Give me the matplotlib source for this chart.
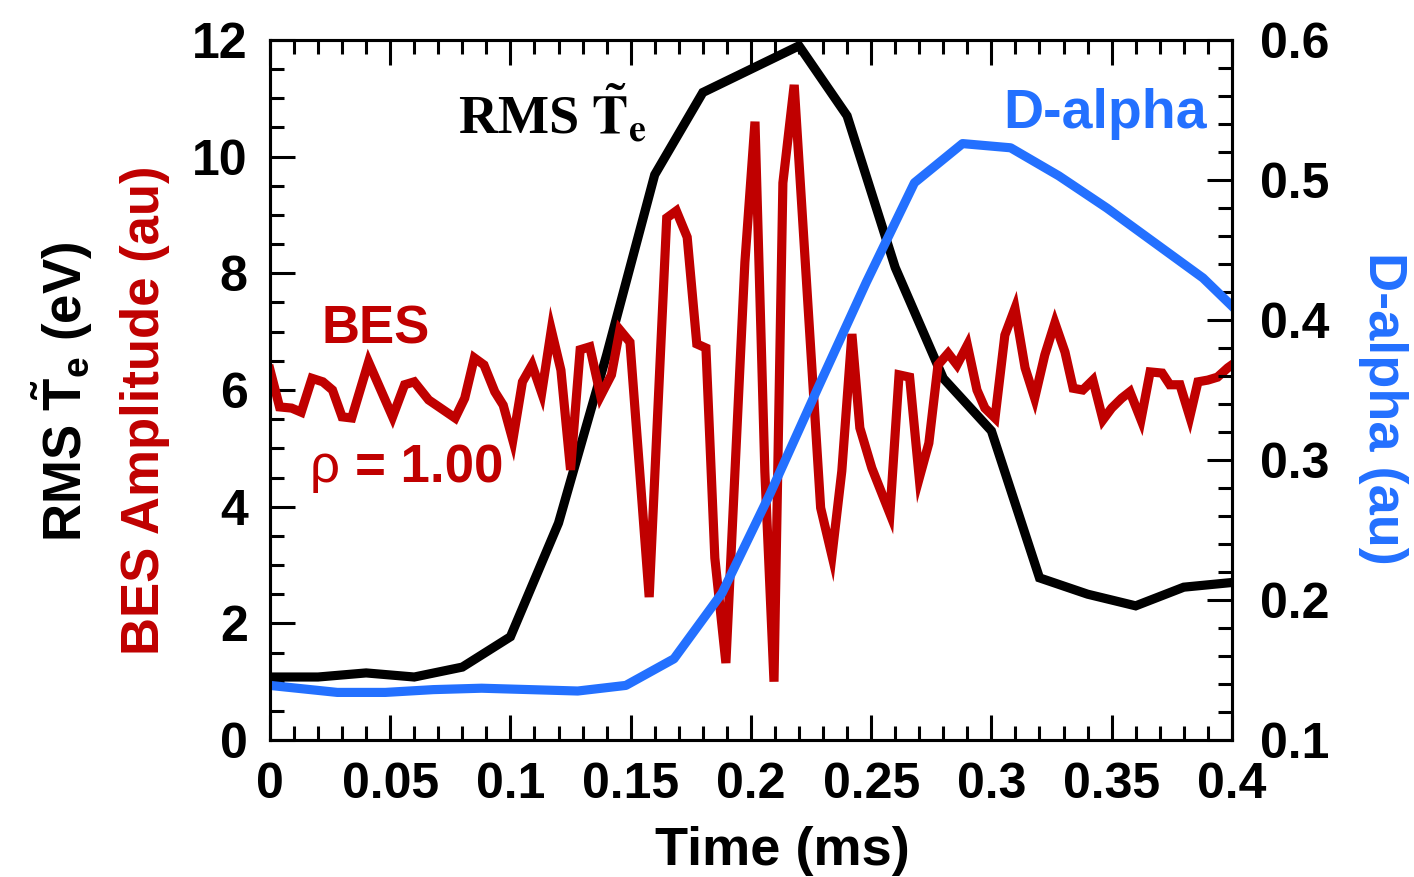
import numpy as np
import matplotlib.pyplot as plt
from matplotlib.ticker import MultipleLocator

# RMS Te fluctuation (eV), sampled every 0.02 ms
te_time = [0.0, 0.02, 0.04, 0.06, 0.08, 0.10, 0.12, 0.14, 0.16, 0.18, 0.20,
           0.22, 0.24, 0.26, 0.28, 0.30, 0.32, 0.34, 0.36, 0.38, 0.40]
te_rms = [1.08, 1.08, 1.15, 1.08, 1.25, 1.77, 3.72, 6.6, 9.69, 11.1, 11.5,
          11.9, 10.7, 8.1, 6.2, 5.3, 2.78, 2.5, 2.3, 2.62, 2.7]

# BES amplitude (au) at rho = 1.00
bes_time = [0.0, 0.004, 0.009, 0.013, 0.0175, 0.022, 0.026, 0.030, 0.034, 0.041,
            0.051, 0.056, 0.060, 0.066, 0.077, 0.081, 0.085, 0.089, 0.0935, 0.097,
            0.101, 0.105, 0.109, 0.113, 0.117, 0.121, 0.125, 0.129, 0.133, 0.1375,
            0.142, 0.1455, 0.1497, 0.1577, 0.165, 0.169, 0.1735, 0.1775, 0.1813, 0.185,
            0.1896, 0.1975, 0.2017, 0.2058, 0.2096, 0.2133, 0.218, 0.229, 0.2337, 0.2378,
            0.242, 0.2453, 0.2503, 0.2578, 0.2616, 0.266, 0.270, 0.274, 0.2778, 0.282,
            0.2857, 0.290, 0.294, 0.2973, 0.3015, 0.3056, 0.3098, 0.314, 0.318, 0.3222,
            0.3264, 0.3306, 0.334, 0.338, 0.3422, 0.3464, 0.350, 0.3542, 0.3576, 0.3622,
            0.366, 0.371, 0.3742, 0.3784, 0.3825, 0.3859, 0.390, 0.394, 0.3983, 0.400]
bes_amp = [6.35, 5.71, 5.69, 5.62, 6.2, 6.14, 6.0, 5.54, 5.52, 6.48,
           5.54, 6.09, 6.14, 5.83, 5.52, 5.86, 6.55, 6.43, 5.97, 5.74,
           5.14, 6.14, 6.43, 5.95, 7.03, 6.34, 4.63, 6.69, 6.74, 5.9,
           6.26, 7.03, 6.82, 2.45, 8.95, 9.07, 8.62, 6.79, 6.72, 3.12,
           1.32, 8.19, 10.6, 4.6, 1.0, 9.55, 11.23, 3.98, 3.16, 4.61,
           6.96, 5.35, 4.66, 3.88, 6.26, 6.22, 4.49, 5.09, 6.43, 6.63,
           6.43, 6.77, 6.0, 5.69, 5.52, 6.94, 7.4, 6.38, 5.86, 6.6,
           7.15, 6.65, 6.03, 6.0, 6.17, 5.49, 5.69, 5.86, 5.97, 5.49,
           6.31, 6.29, 6.09, 6.09, 5.54, 6.14, 6.17, 6.22, 6.38, 6.43]

# D-alpha emission (au)
da_time = [0.0, 0.028, 0.048, 0.068, 0.088, 0.108, 0.128, 0.148, 0.168, 0.188,
           0.208, 0.228, 0.248, 0.268, 0.288, 0.308, 0.328, 0.348, 0.368, 0.388, 0.40]
da_signal = [0.139, 0.134, 0.134, 0.136, 0.137, 0.136, 0.135, 0.139, 0.158, 0.205,
             0.276, 0.352, 0.427, 0.498, 0.526, 0.523, 0.503, 0.48, 0.455, 0.43, 0.41]

x_ticks = [0, 0.05, 0.1, 0.15, 0.2, 0.25, 0.3, 0.35, 0.4]
x_tick_labels = ['0', '0.05', '0.1', '0.15', '0.2', '0.25', '0.3', '0.35', '0.4']
left_ticks = [0, 2, 4, 6, 8, 10, 12]
left_tick_labels = ['0', '2', '4', '6', '8', '10', '12']
right_ticks = [0.1, 0.2, 0.3, 0.4, 0.5, 0.6]
right_tick_labels = ['0.1', '0.2', '0.3', '0.4', '0.5', '0.6']

RED = '#C00000'
BLUE = '#2370FF'

plt.rcParams['font.family'] = 'Liberation Sans'
plt.rcParams['font.weight'] = 'bold'
plt.rcParams['axes.labelweight'] = 'bold'
plt.rcParams['mathtext.fontset'] = 'custom'
plt.rcParams['mathtext.rm'] = 'Liberation Sans:bold'
plt.rcParams['mathtext.bf'] = 'Liberation Sans:bold'
plt.rcParams['mathtext.it'] = 'Liberation Sans:bold'

fig = plt.figure(figsize=(14.14, 8.77), dpi=100)
ax = fig.add_axes([0.1909, 0.1562, 0.6803, 0.7982])
ax2 = ax.twinx()

LW = 6.6
ax.plot(te_time, te_rms, color='black', lw=LW, solid_joinstyle='miter', zorder=2)
ax.plot(bes_time, bes_amp, color=RED, lw=LW, solid_joinstyle='miter', zorder=3)
ax2.plot(da_time, da_signal, color=BLUE, lw=LW, solid_joinstyle='round')

ax.set_xlim(0, 0.4)
ax.set_ylim(0, 12)
ax2.set_ylim(0.1, 0.6)

ax.set_xticks(x_ticks)
ax.set_xticklabels(x_tick_labels)
ax.xaxis.set_minor_locator(MultipleLocator(0.01))
ax.set_yticks(left_ticks)
ax.set_yticklabels(left_tick_labels)
ax.yaxis.set_minor_locator(MultipleLocator(0.5))
ax2.set_yticks(right_ticks)
ax2.set_yticklabels(right_tick_labels)
ax2.yaxis.set_minor_locator(MultipleLocator(0.02))

for a in (ax, ax2):
    for s in a.spines.values():
        s.set_linewidth(2.2)

ax.tick_params(axis='x', which='both', direction='in', top=True, width=2.2,
               labelsize=36, pad=16)
ax.tick_params(axis='y', which='both', direction='in', left=True, right=False,
               width=2.2, labelsize=36, pad=16)
ax.tick_params(which='major', length=18)
ax.tick_params(which='minor', length=10)
ax2.tick_params(axis='y', which='both', direction='in', width=2.2,
                labelsize=36, pad=20)
ax2.tick_params(which='major', length=18)
ax2.tick_params(which='minor', length=10)

ax.set_xlabel('Time (ms)', fontsize=39, fontweight='bold', labelpad=13)
ax.xaxis.label.set_x(0.533)

# stacked left-hand labels and the right-hand label
fig.text(62 / 1414, 1 - 392 / 877, r'RMS $\mathbf{\tilde{T}_e}$ (eV)', rotation=90,
         ha='center', va='center', fontsize=38, color='black')
fig.text(145 / 1414, 1 - 410 / 877, 'BES Amplitude (au)', rotation=90,
         ha='center', va='center', fontsize=38, color=RED)
fig.text(1383 / 1414, 1 - 408 / 877, 'D-alpha (au)', rotation=270,
         ha='center', va='center', fontsize=39, color=BLUE)

# in-plot annotations
ax.text(0.078, 10.38, r'RMS $\mathbf{\tilde{T}_e}$', fontsize=39, color='black',
        family='Liberation Serif', math_fontfamily='stix', ha='left', va='baseline')
ax.text(0.3048, 10.49, 'D-alpha', fontsize=40, color=BLUE, ha='left', va='baseline')
ax.text(0.0216, 6.8, 'BES', fontsize=38, color=RED, ha='left', va='baseline')
ax.text(0.0166, 4.42, 'ρ', fontsize=38, color=RED, fontweight='normal',
        ha='left', va='baseline')
ax.text(0.0353, 4.42, '= 1.00', fontsize=38, color=RED, ha='left', va='baseline')

fig.savefig('out.png', dpi=100)
